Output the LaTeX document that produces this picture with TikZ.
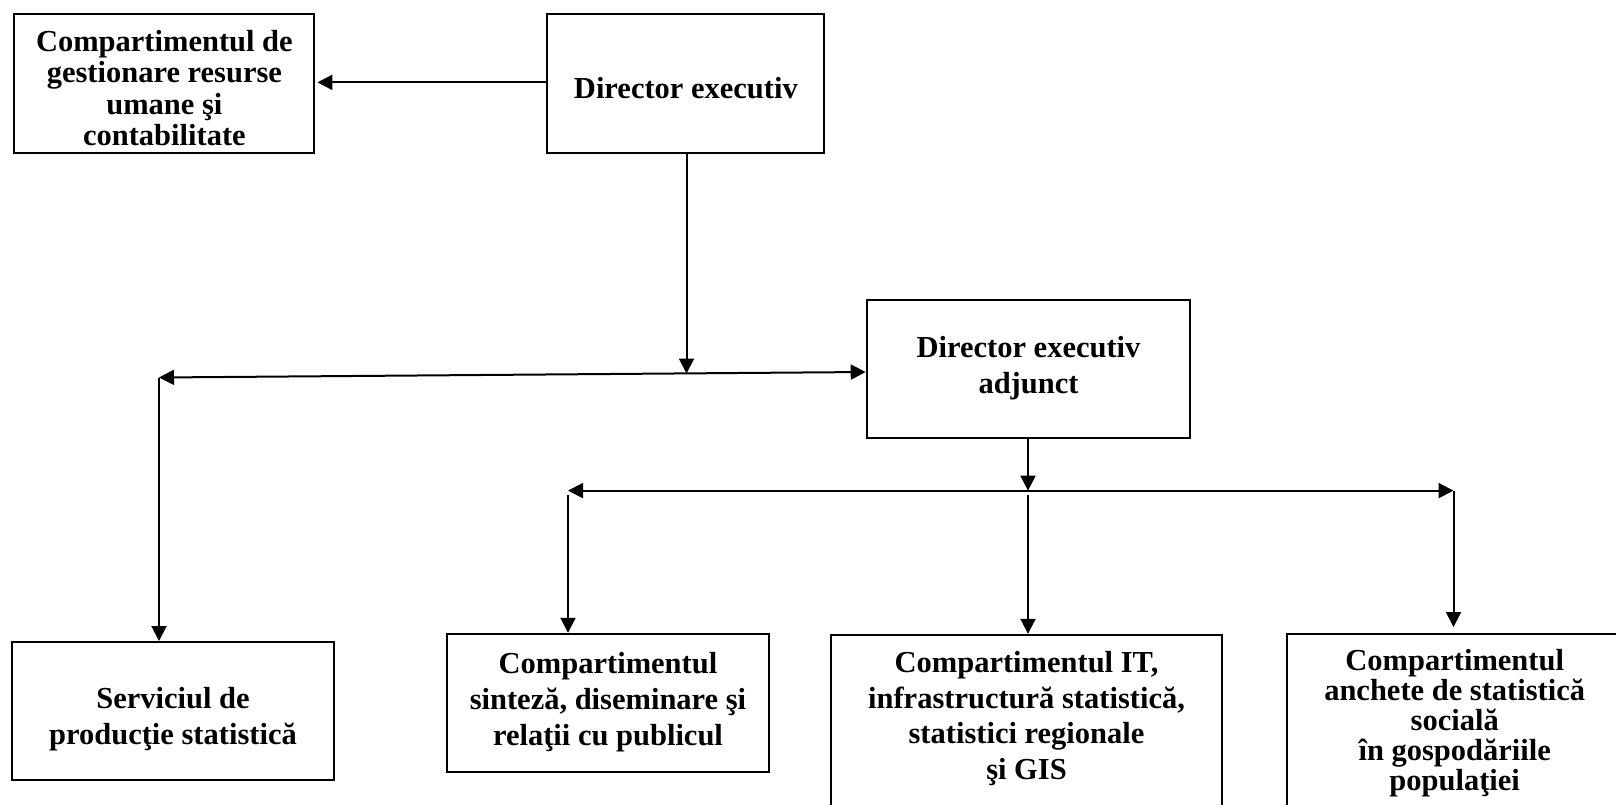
\documentclass[tikz,border=0pt]{standalone}
\usepackage{fontspec}
\setmainfont{Liberation Serif}
\usetikzlibrary{arrows.meta}
\begin{document}
\begin{tikzpicture}[x=1pt,y=-1pt,
  box/.style={draw, line width=2pt, inner sep=0pt},
  txt/.style={align=center, inner sep=0pt},
  fa/.style={font=\fontsize{30.5}{36}\selectfont\bfseries},
  fb/.style={font=\fontsize{30.5}{31.5}\selectfont\bfseries},
  fc/.style={font=\fontsize{30.5}{30}\selectfont\bfseries},
  tip/.tip={Triangle[length=15pt,width=15pt]},
  conn/.style={line width=2pt, -tip},
  both/.style={line width=2pt, tip-tip}]
\useasboundingbox (0,0) rectangle (1616,804);
\clip (0,0) rectangle (1616,804);
% boxes
\node[box, minimum width=300pt, minimum height=139pt] (hr) at (164.4,83) {};
\node[box, minimum width=277pt, minimum height=139pt] (de) at (685.9,83) {};
\node[box, minimum width=323.6pt, minimum height=138pt] (dea) at (1028.5,369) {};
\node[box, minimum width=321.5pt, minimum height=138pt] (serv) at (173,711) {};
\node[box, minimum width=321.5pt, minimum height=138pt] (sint) at (608,702.8) {};
\node[box, anchor=north, minimum width=391.6pt, minimum height=200pt] (it) at (1026.5,633.8) {};
\node[box, minimum width=335pt, minimum height=172pt] (anch) at (1454.7,720) {};
% texts
\node[txt, fb] (hrT) at (164.4,88)
  {Compartimentul de\\gestionare resurse\\umane şi\\contabilitate};
\node[txt, fa] (deT) at (685.9,88) {Director executiv};
\node[txt, fa] (deaT) at (1028.5,368) {Director executiv\\adjunct};
\node[txt, fa] (servT) at (173,719) {Serviciul de\\producţie statistică};
\node[txt, fa] (sintT) at (608,702.5)
  {Compartimentul\\sinteză, diseminare şi\\relaţii cu publicul};
\node[txt, font=\fontsize{30.5}{35.5}\selectfont\bfseries] (itT) at (1026.5,718.5)
  {Compartimentul IT,\\infrastructură statistică,\\statistici regionale\\şi GIS};
\node[txt, fc] (anchT) at (1454.7,723.5)
  {Compartimentul\\anchete de statistică\\socială\\în gospodăriile\\populaţiei};
% junction coordinates
\coordinate (hl) at (159,377.5);
\coordinate (j1) at (686.5,373.5);
\coordinate (hl2) at (568,490.6);
\coordinate (hr2) at (1453.5,490.6);
\coordinate (j2) at (1028,490.6);
% connectors
\draw[conn, shorten >=2pt] (de.west |- 0,82.4) -- (hr.east |- 0,82.4);
\draw[conn] (de.south -| j1) -- (j1);
\draw[both] (hl) -- ([yshift=-3pt]dea.west);
\draw[conn] (hl) -- (hl |- serv.north);
\draw[conn] (dea.south -| j2) -- (j2);
\draw[both] (hl2) -- (hr2);
\draw[conn] ([yshift=-4pt]hl2) -- (hl2 |- sint.north);
\draw[conn] ([yshift=-4pt]j2) -- (j2 |- it.north);
\draw[conn, shorten >=6pt] (hr2) -- (hr2 |- anch.north);
\end{tikzpicture}
\end{document}
